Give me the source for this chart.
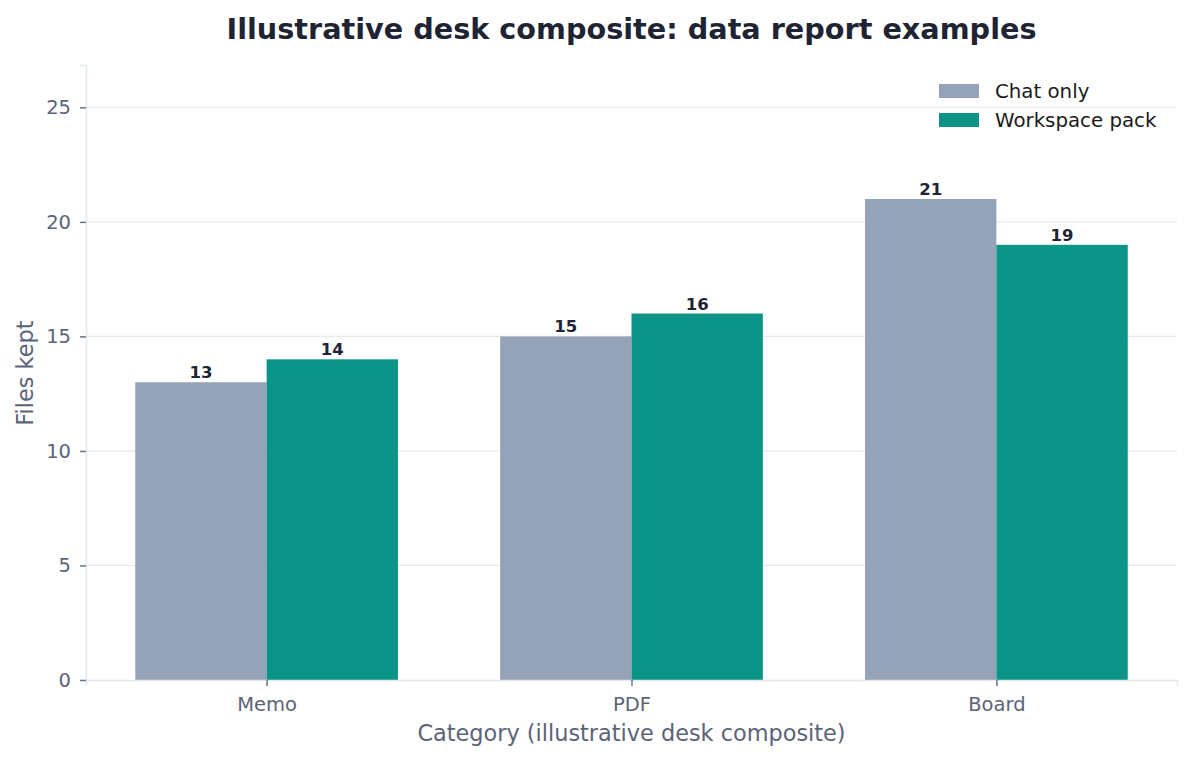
<!DOCTYPE html>
<html>
<head>
<meta charset="utf-8">
<script src="https://cdn.jsdelivr.net/npm/d3@7"></script>
<style>
  body { margin: 0; background: #fff; }
  svg { font-family: 'DejaVu Sans', sans-serif; }
</style>
</head>
<body>
<div class="chart"></div>
<script>
const categories = ['Memo', 'PDF', 'Board']
const seriesNames = ['Chat only', 'Workspace pack']
const chatOnly = [13, 15, 21]
const workspacePack = [14, 16, 19]
const yTicks = [0, 5, 10, 15, 20, 25]

;(function init() {
  const width = 1193
  const height = 760
  const margin = { top: 65, right: 16, bottom: 80, left: 86 }
  const colors = ['#94a3b8', '#0d9488']
  const barWidth = 0.36

  const svg = d3
    .select('.chart')
    .append('svg')
    .attr('width', width)
    .attr('height', height)

  // categories sit at 0,1,2 like a matplotlib axis
  const xScale = d3
    .scaleLinear()
    .domain([-0.495, 2.495])
    .range([margin.left, width - margin.right])

  const yScale = d3
    .scaleLinear()
    .domain([0, 26.85])
    .range([height - margin.bottom, margin.top])

  // grid
  svg
    .append('g')
    .selectAll('line')
    .data(yTicks.filter((d) => d > 0))
    .enter()
    .append('line')
    .attr('x1', margin.left)
    .attr('x2', width - margin.right)
    .attr('y1', (d) => yScale(d))
    .attr('y2', (d) => yScale(d))
    .attr('stroke', '#e5e9f0')
    .attr('stroke-width', 1.2)

  const series = [chatOnly, workspacePack]
  series.forEach((values, s) => {
    const offset = s === 0 ? -barWidth : 0
    svg
      .append('g')
      .selectAll('rect')
      .data(values)
      .enter()
      .append('rect')
      .attr('x', (d, i) => xScale(i + offset))
      .attr('y', (d) => yScale(d))
      .attr('width', xScale(barWidth) - xScale(0))
      .attr('height', (d) => yScale(0) - yScale(d))
      .attr('fill', colors[s])

    svg
      .append('g')
      .selectAll('text')
      .data(values)
      .enter()
      .append('text')
      .attr('x', (d, i) => xScale(i + offset + barWidth / 2))
      .attr('y', (d) => yScale(d) - 4)
      .attr('text-anchor', 'middle')
      .attr('font-size', 16.5)
      .attr('font-weight', 'bold')
      .attr('fill', '#1e2433')
      .text((d) => d)
  })

  const xAxis = d3
    .axisBottom(xScale)
    .tickValues(d3.range(categories.length))
    .tickFormat((d) => categories[d])
    .tickSize(6)
    .tickPadding(11)

  const yAxis = d3
    .axisLeft(yScale)
    .tickValues(yTicks)
    .tickSize(6)
    .tickPadding(9)

  for (const [axis, transform] of [
    [xAxis, 'translate(0,' + (height - margin.bottom) + ')'],
    [yAxis, 'translate(' + margin.left + ',0)']
  ]) {
    const g = svg.append('g').attr('transform', transform).call(axis)
    g.select('.domain').attr('stroke', '#e2e8f0').attr('stroke-width', 1.5)
    g.selectAll('.tick line').attr('stroke', '#64748b').attr('stroke-width', 1.5)
    g.selectAll('.tick text')
      .attr('fill', '#5b6478')
      .attr('font-size', 19.5)
      .attr('font-family', 'DejaVu Sans')
  }

  svg
    .append('text')
    .attr('x', (margin.left + width - margin.right) / 2)
    .attr('y', 39)
    .attr('text-anchor', 'middle')
    .attr('font-size', 28.7)
    .attr('font-weight', 'bold')
    .attr('fill', '#1e2433')
    .text('Illustrative desk composite: data report examples')

  svg
    .append('text')
    .attr('x', (margin.left + width - margin.right) / 2)
    .attr('y', 741)
    .attr('text-anchor', 'middle')
    .attr('font-size', 22.4)
    .attr('fill', '#5b6478')
    .text('Category (illustrative desk composite)')

  svg
    .append('text')
    .attr('transform', 'translate(33,' + yScale(13.4) + ') rotate(-90)')
    .attr('text-anchor', 'middle')
    .attr('font-size', 22.4)
    .attr('fill', '#5b6478')
    .text('Files kept')

  const legend = svg
    .append('g')
    .attr('transform', 'translate(939,84)')

  legend
    .selectAll('rect')
    .data(seriesNames)
    .enter()
    .append('rect')
    .attr('x', 0)
    .attr('y', (d, i) => i * 29)
    .attr('width', 40)
    .attr('height', 14)
    .attr('fill', (d, i) => colors[i])

  legend
    .selectAll('text')
    .data(seriesNames)
    .enter()
    .append('text')
    .attr('x', 56)
    .attr('y', (d, i) => i * 29 + 14)
    .attr('font-size', 19.8)
    .attr('fill', '#1a1a1a')
    .text((d) => d)
})()
</script>
</body>
</html>
